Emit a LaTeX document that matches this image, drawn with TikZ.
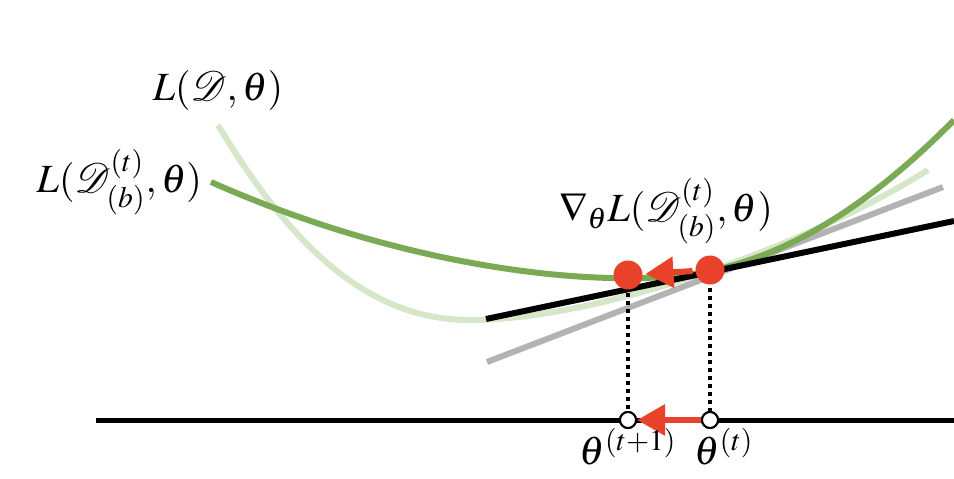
\documentclass[tikz,border=0pt]{standalone}
\usepackage{mathptmx}
\usepackage{mathrsfs}
\usetikzlibrary{arrows.meta,positioning}

\definecolor{stepred}{HTML}{E8432A}
\definecolor{fullgreen}{HTML}{D6E7C9}
\definecolor{batchgreen}{HTML}{7BAA55}
\definecolor{tangentgray}{HTML}{B3B3B3}

\tikzset{
	reddot/.style={circle,fill=stepred,inner sep=0pt,minimum size=14.5pt},
	param/.style={circle,draw=black,fill=white,line width=1pt,inner sep=0pt,minimum size=8pt},
	update/.style={stepred,line width=3pt,-{Triangle[length=14pt,width=15pt]}},
	lbl/.style={font=\fontsize{20}{24}\selectfont,inner sep=0pt}
}

\begin{document}
\begin{tikzpicture}[x=0.5pt,y=-0.5pt,line width=3pt]
	\useasboundingbox (0,0) rectangle (954,478);
	% loss curves and tangents
	\coordinate (fullStart) at (218,125);
	\coordinate (batchStart) at (211,182);
	\draw[fullgreen] (fullStart) .. controls (300,262) and (380,322) .. (475,320)
	      .. controls (600,318) and (800,250) .. (928,170);
	\draw[tangentgray] (487,362) -- (943,187);
	\draw[batchgreen] (batchStart) .. controls (420,275) and (620,290) .. (710,271)
	      .. controls (800,252) and (880,195) .. (954,120);
	\draw[black] (486,319) -- (954,221);
	\draw[black,line width=2.5pt] (96,420) -- (954,420);

	\node[reddot] (dotL) at (628,275) {};
	\node[reddot] (dotR) at (710,270) {};
	\node[param] (paramL) at (628,420) {};
	\node[param] (paramR) at (710,420) {};
	\draw[dotted,line width=1.6pt,dash pattern=on 2pt off 2pt] (dotL) -- (paramL);
	\draw[dotted,line width=1.6pt,dash pattern=on 2pt off 2pt] (dotR) -- (paramR);
	\node[param] at (paramL) {};
	\node[param] at (paramR) {};
	\draw[update] (dotR) -- (dotL);
	\draw[update] (paramR) -- (paramL);

	% labels
	\node[lbl,above=6pt of fullStart] (fullLoss) {$L(\mathscr{D},\theta)$};
	\node[lbl,left=3pt of batchStart] (batchLoss) {$L(\mathscr{D}^{(t)}_{(b)},\theta)$};
	\node[lbl] (gradLoss) at (666,211) {$\nabla_{\theta} L(\mathscr{D}^{(t)}_{(b)},\theta)$};
	\node[lbl,below=-2pt of paramL] (thetaNext) {$\theta^{(t+1)}$};
	\node[lbl,below=-2pt of paramR,xshift=7pt] (thetaNow) {$\theta^{(t)}$};
\end{tikzpicture}
\end{document}
